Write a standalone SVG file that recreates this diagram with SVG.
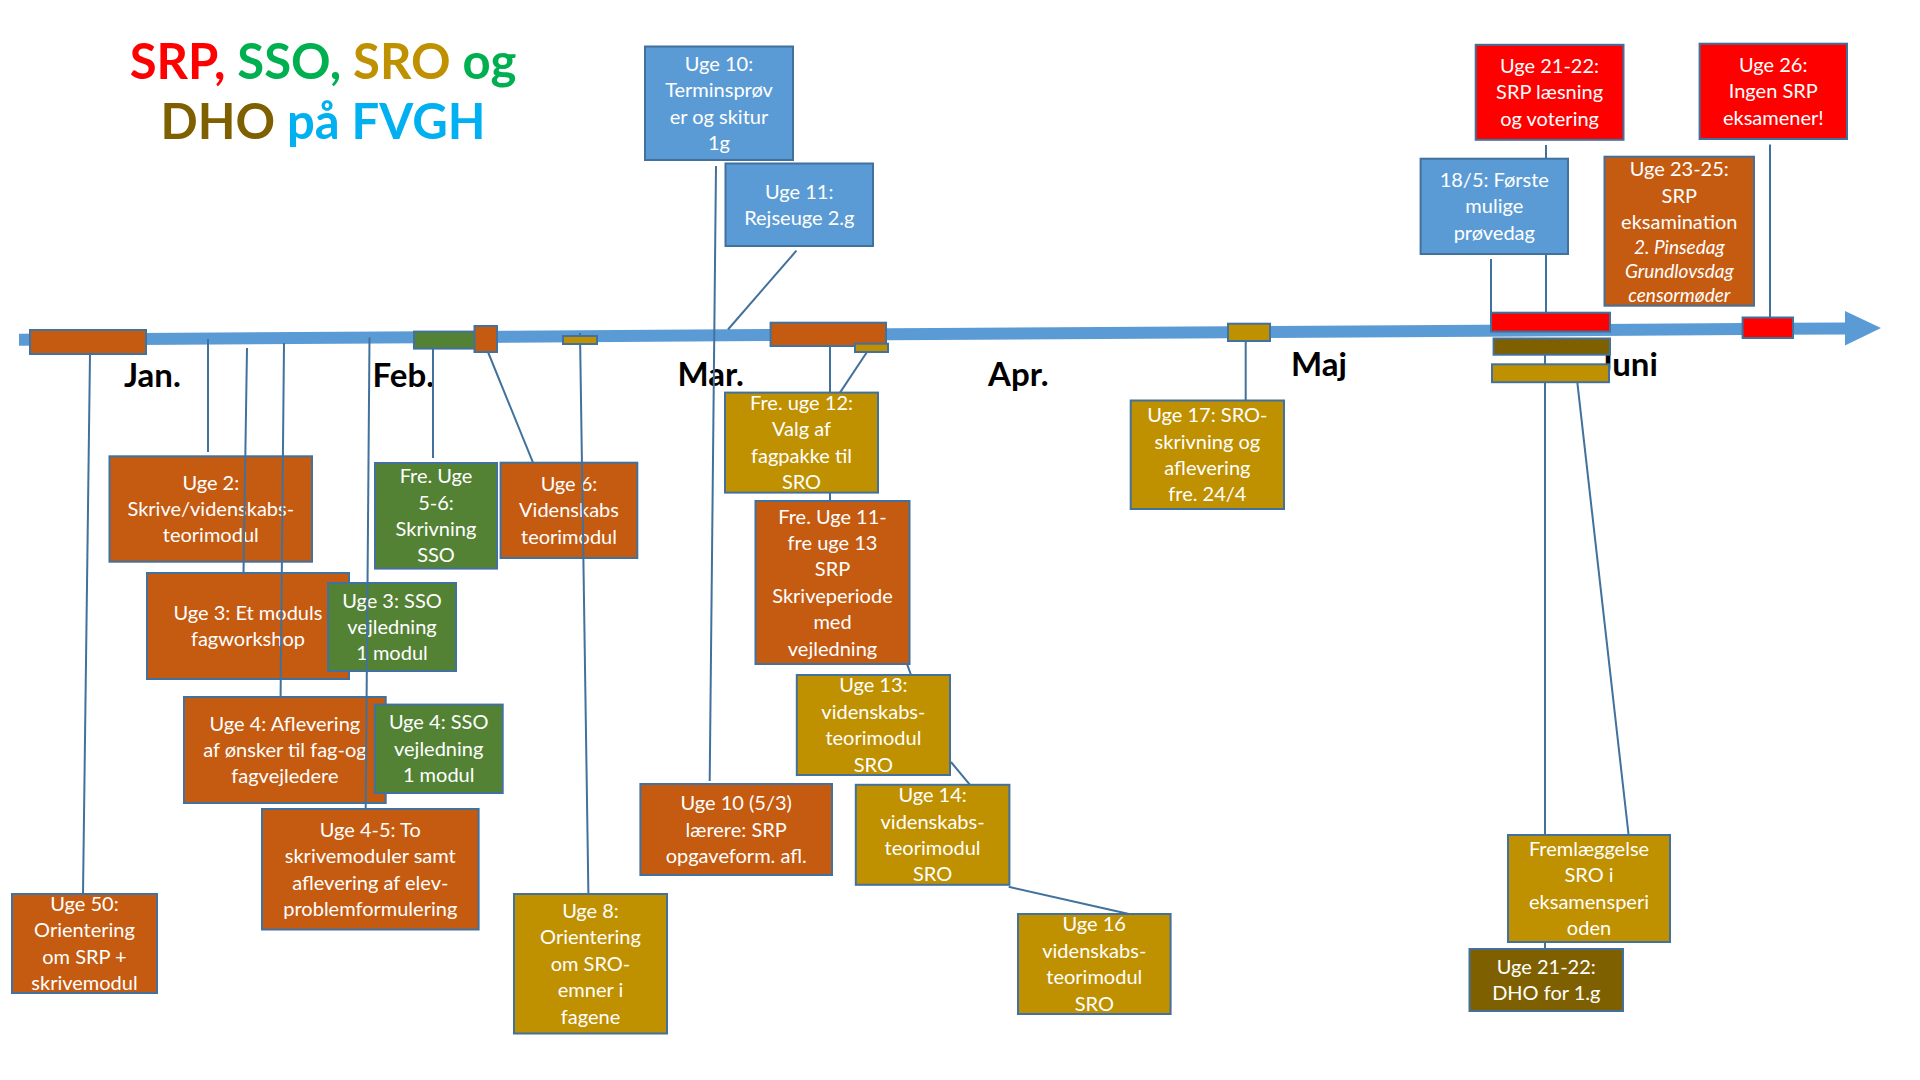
<svg xmlns="http://www.w3.org/2000/svg" width="1920" height="1080" viewBox="0 0 1920 1080">
<style>
.bx{stroke:#41719C;stroke-width:2}
.or{fill:#C55A11}.gr{fill:#548235}.go{fill:#BF9000}.bl{fill:#5B9BD5}.rd{fill:#FF0000}.dh{fill:#7F6000}
.t{font-family:Lato,"Liberation Sans",sans-serif;font-size:20px;fill:#fff;text-anchor:middle}
.ti{font-style:italic;font-size:19px}
.mo{font-family:Lato,"Liberation Sans",sans-serif;font-weight:700;font-size:33px;fill:#000}
.hd{font-family:Lato,"Liberation Sans",sans-serif;font-weight:700;font-size:49px;text-anchor:middle}
.cn{stroke:#41719C;stroke-width:2;fill:none}
</style>
<rect width="1920" height="1080" fill="#fff"/>
<g id="title">
<text class="hd" x="323" y="78.5"><tspan fill="#FF0000">SRP,</tspan> <tspan fill="#00B050">SSO,</tspan> <tspan fill="#BF9000">SRO</tspan> <tspan fill="#00B050">og</tspan></text>
<text class="hd" x="323" y="139"><tspan fill="#7F6000">DHO</tspan> <tspan fill="#00B0F0">på FVGH</tspan></text>
</g>
<g id="timeline">
<line x1="19" y1="339.7" x2="1846" y2="328.4" stroke="#5B9BD5" stroke-width="12"/>
<polygon points="1845,311 1881,328 1845,345.4" fill="#5B9BD5"/>
</g>
<g id="months">
<text class="mo" x="124" y="387">Jan.</text>
<text class="mo" x="372.6" y="387">Feb.</text>
<text class="mo" x="677.6" y="386">Mar.</text>
<text class="mo" x="988" y="386">Apr.</text>
<text class="mo" x="1291" y="376">Maj</text>
<text class="mo" x="1598.5" y="376">Juni</text>
</g>
<g id="nodes">
<g id="n-uge50"><rect class="bx or" x="12" y="894" width="145" height="99"/><text class="t"><tspan x="84.5" y="910.9">Uge 50:</tspan><tspan x="84.5" y="937.3">Orientering</tspan><tspan x="84.5" y="963.7">om SRP +</tspan><tspan x="84.5" y="990.1">skrivemodul</tspan></text></g>
<g id="n-uge2"><rect class="bx or" x="109.5" y="456.3" width="202.5" height="105.4"/><text class="t"><tspan x="210.8" y="489.6">Uge 2:</tspan><tspan x="210.8" y="516">Skrive/videnskabs-</tspan><tspan x="210.8" y="542.4">teorimodul</tspan></text></g>
<g id="n-uge3"><rect class="bx or" x="147" y="573" width="202" height="106"/><text class="t"><tspan x="248" y="619.8">Uge 3: Et moduls</tspan><tspan x="248" y="646.2">fagworkshop</tspan></text></g>
<g id="n-uge3sso"><rect class="bx gr" x="328" y="583" width="128" height="88"/><text class="t"><tspan x="392" y="607.6">Uge 3: SSO</tspan><tspan x="392" y="634">vejledning</tspan><tspan x="392" y="660.4">1 modul</tspan></text></g>
<g id="n-uge4"><rect class="bx or" x="184" y="697" width="201.7" height="106"/><text class="t"><tspan x="284.9" y="730.6">Uge 4: Aflevering</tspan><tspan x="284.9" y="757">af ønsker til fag-og</tspan><tspan x="284.9" y="783.4">fagvejledere</tspan></text></g>
<g id="n-uge4sso"><rect class="bx gr" x="374.7" y="704.6" width="128" height="88.4"/><text class="t"><tspan x="438.7" y="729.4">Uge 4: SSO</tspan><tspan x="438.7" y="755.8">vejledning</tspan><tspan x="438.7" y="782.2">1 modul</tspan></text></g>
<g id="n-uge45"><rect class="bx or" x="262" y="809" width="216.6" height="120.5"/><text class="t"><tspan x="370.3" y="836.7">Uge 4-5: To</tspan><tspan x="370.3" y="863.1">skrivemoduler samt</tspan><tspan x="370.3" y="889.5">aflevering af elev-</tspan><tspan x="370.3" y="915.9">problemformulering</tspan></text></g>
<g id="n-fre56"><rect class="bx gr" x="375" y="463" width="122" height="105.6"/><text class="t"><tspan x="436" y="483.2">Fre. Uge</tspan><tspan x="436" y="509.6">5-6:</tspan><tspan x="436" y="536">Skrivning</tspan><tspan x="436" y="562.4">SSO</tspan></text></g>
<g id="n-uge6"><rect class="bx or" x="500.6" y="462.7" width="136.7" height="95.3"/><text class="t"><tspan x="569" y="491">Uge 6:</tspan><tspan x="569" y="517.4">Videnskabs</tspan><tspan x="569" y="543.8">teorimodul</tspan></text></g>
<g id="n-uge8"><rect class="bx go" x="514" y="894" width="153" height="139.5"/><text class="t"><tspan x="590.5" y="918">Uge 8:</tspan><tspan x="590.5" y="944.4">Orientering</tspan><tspan x="590.5" y="970.8">om SRO-</tspan><tspan x="590.5" y="997.2">emner i</tspan><tspan x="590.5" y="1023.6">fagene</tspan></text></g>
<g id="n-uge10"><rect class="bx bl" x="645" y="46.5" width="148" height="113.5"/><text class="t"><tspan x="719" y="70.7">Uge 10:</tspan><tspan x="719" y="97.1">Terminsprøv</tspan><tspan x="719" y="123.5">er og skitur</tspan><tspan x="719" y="149.9">1g</tspan></text></g>
<g id="n-uge11"><rect class="bx bl" x="725.5" y="163.5" width="147.5" height="82.5"/><text class="t"><tspan x="799.3" y="198.6">Uge 11:</tspan><tspan x="799.3" y="225">Rejseuge 2.g</tspan></text></g>
<g id="n-fre12"><rect class="bx go" x="725" y="392.6" width="153" height="100"/><text class="t"><tspan x="801.5" y="410">Fre. uge 12:</tspan><tspan x="801.5" y="436.4">Valg af</tspan><tspan x="801.5" y="462.8">fagpakke til</tspan><tspan x="801.5" y="489.2">SRO</tspan></text></g>
<g id="n-fre11"><rect class="bx or" x="755.5" y="501" width="154" height="163"/><text class="t"><tspan x="832.5" y="523.5">Fre. Uge 11-</tspan><tspan x="832.5" y="549.9">fre uge 13</tspan><tspan x="832.5" y="576.3">SRP</tspan><tspan x="832.5" y="602.7">Skriveperiode</tspan><tspan x="832.5" y="629.1">med</tspan><tspan x="832.5" y="655.5">vejledning</tspan></text></g>
<g id="n-uge10b"><rect class="bx or" x="640.4" y="784" width="191.6" height="91"/><text class="t"><tspan x="736.2" y="810.1">Uge 10 (5/3)</tspan><tspan x="736.2" y="836.5">lærere: SRP</tspan><tspan x="736.2" y="862.9">opgaveform. afl.</tspan></text></g>
<g id="n-uge13"><rect class="bx go" x="796.8" y="675" width="153.2" height="100"/><text class="t"><tspan x="873.4" y="692.4">Uge 13:</tspan><tspan x="873.4" y="718.8">videnskabs-</tspan><tspan x="873.4" y="745.2">teorimodul</tspan><tspan x="873.4" y="771.6">SRO</tspan></text></g>
<g id="n-uge14"><rect class="bx go" x="855.8" y="784.8" width="153.6" height="100"/><text class="t"><tspan x="932.6" y="802.2">Uge 14:</tspan><tspan x="932.6" y="828.6">videnskabs-</tspan><tspan x="932.6" y="855">teorimodul</tspan><tspan x="932.6" y="881.4">SRO</tspan></text></g>
<g id="n-uge16"><rect class="bx go" x="1018" y="914" width="152.6" height="100"/><text class="t"><tspan x="1094.3" y="931.4">Uge 16</tspan><tspan x="1094.3" y="957.8">videnskabs-</tspan><tspan x="1094.3" y="984.2">teorimodul</tspan><tspan x="1094.3" y="1010.6">SRO</tspan></text></g>
<g id="n-uge17"><rect class="bx go" x="1130.7" y="400.5" width="153.3" height="108.5"/><text class="t"><tspan x="1207.4" y="422.2">Uge 17: SRO-</tspan><tspan x="1207.4" y="448.6">skrivning og</tspan><tspan x="1207.4" y="475">aflevering</tspan><tspan x="1207.4" y="501.4">fre. 24/4</tspan></text></g>
<g id="n-18maj"><rect class="bx bl" x="1420.6" y="158.7" width="147.4" height="95.3"/><text class="t"><tspan x="1494.3" y="187">18/5: Første</tspan><tspan x="1494.3" y="213.4">mulige</tspan><tspan x="1494.3" y="239.8">prøvedag</tspan></text></g>
<g id="n-uge2122"><rect class="bx rd" x="1475.7" y="44.8" width="147.8" height="95"/><text class="t"><tspan x="1549.6" y="72.9">Uge 21-22:</tspan><tspan x="1549.6" y="99.3">SRP læsning</tspan><tspan x="1549.6" y="125.7">og votering</tspan></text></g>
<g id="n-uge26"><rect class="bx rd" x="1699.6" y="43.7" width="147.4" height="95.3"/><text class="t"><tspan x="1773.3" y="72">Uge 26:</tspan><tspan x="1773.3" y="98.4">Ingen SRP</tspan><tspan x="1773.3" y="124.8">eksamener!</tspan></text></g>
<g id="n-uge2325"><rect class="bx or" x="1604.5" y="156.7" width="149.5" height="149"/><text class="t"><tspan x="1679.3" y="176">Uge 23-25:</tspan><tspan x="1679.3" y="203">SRP</tspan><tspan x="1679.3" y="229">eksamination</tspan><tspan class="ti" x="1679.3" y="254">2. Pinsedag</tspan><tspan class="ti" x="1679.3" y="278">Grundlovsdag</tspan><tspan class="ti" x="1679.3" y="301.5">censormøder</tspan></text></g>
<g id="n-frem"><rect class="bx go" x="1508" y="835" width="162" height="107"/><text class="t"><tspan x="1589" y="855.9">Fremlæggelse</tspan><tspan x="1589" y="882.3">SRO i</tspan><tspan x="1589" y="908.7">eksamensperi</tspan><tspan x="1589" y="935.1">oden</tspan></text></g>
<g id="n-dho"><rect class="bx dh" x="1469.5" y="949" width="153.5" height="62"/><text class="t"><tspan x="1546.3" y="973.8">Uge 21-22:</tspan><tspan x="1546.3" y="1000.2">DHO for 1.g</tspan></text></g>
</g>
<g id="connectors" class="cn">
<path d="M90 354L83 894"/>
<path d="M208 339L208 452"/>
<path d="M247 348L243.5 573"/>
<path d="M284 343L280.6 697"/>
<path d="M369.5 337.5L365.7 809"/>
<path d="M433 348.5L433 458"/>
<path d="M488 352L533 462.7"/>
<path d="M580 333L588.4 894"/>
<path d="M716 166L709.7 781"/>
<path d="M796.4 250.7L728 329.5"/>
<path d="M868 350.5L840 392.6"/>
<path d="M830 346L830 392.6M830 492.7L830 501"/>
<path d="M907 663.8L911 675"/>
<path d="M951 762L970 784.8"/>
<path d="M1008.7 886.8L1129 914"/>
<path d="M1245.7 341L1245.7 400.5"/>
<path d="M1491 259L1491 313"/>
<path d="M1546 145L1546 158.7M1546 254L1546 313"/>
<path d="M1770 144.6L1770 317.5"/>
<path d="M1545 354.7L1545 835M1545 942L1545 949"/>
<path d="M1577.3 382.2L1628.6 835"/>
</g>
<g id="markers">
<rect id="m-uge50" class="bx or" x="30" y="330" width="116" height="24"/>
<rect id="m-sso" class="bx gr" x="414" y="331.6" width="61" height="17"/>
<rect id="m-uge6" class="bx or" x="474.5" y="326" width="22.5" height="26"/>
<rect id="m-uge8" class="bx go" x="563" y="336" width="34" height="8"/>
<rect id="m-srp" class="bx or" x="770.6" y="322.7" width="115.4" height="23.3"/>
<rect id="m-fre12" class="bx go" x="855" y="343.7" width="33" height="8.3"/>
<rect id="m-uge17" class="bx go" x="1228" y="323.7" width="42" height="17.3"/>
<rect id="m-srpred" class="bx rd" x="1491" y="312.7" width="119" height="18.9"/>
<rect id="m-dho" class="bx dh" x="1493.6" y="338.5" width="116.4" height="16.2"/>
<rect id="m-sro" class="bx go" x="1492" y="364.3" width="117" height="17.9"/>
<rect id="m-uge26" class="bx rd" x="1742.6" y="317.5" width="50.4" height="20.5"/>
</g>
</svg>
